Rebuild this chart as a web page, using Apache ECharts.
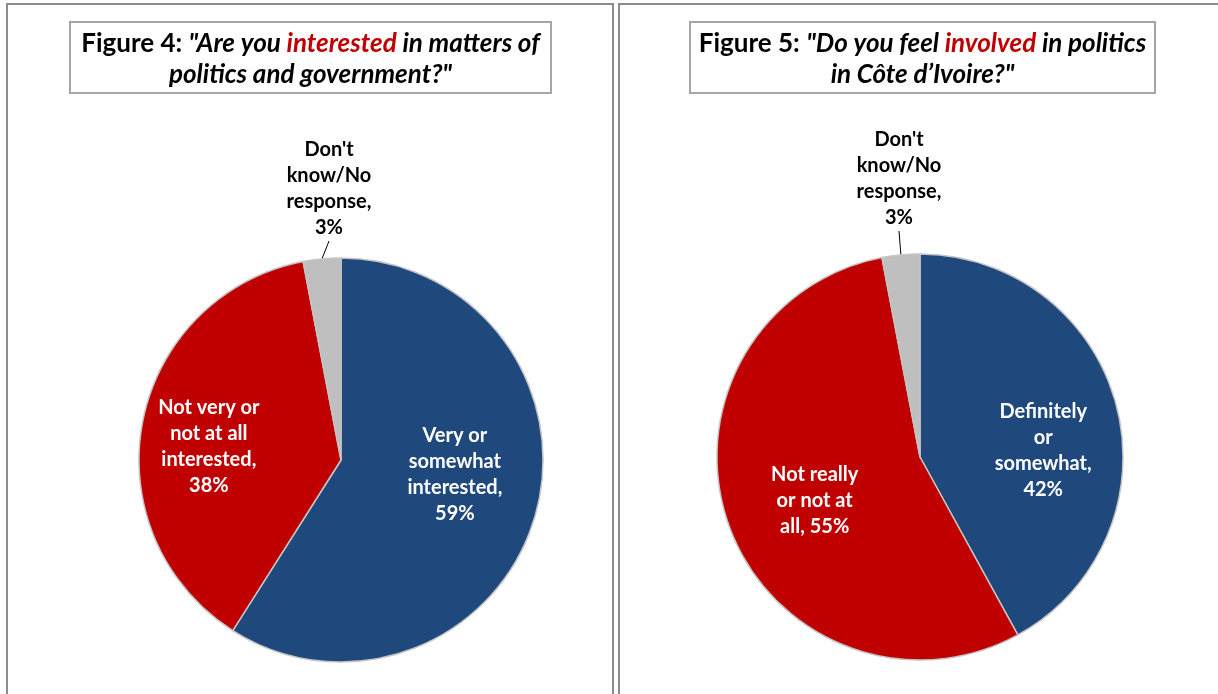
<!DOCTYPE html>
<html>
<head>
<meta charset="utf-8">
<script src="https://cdn.jsdelivr.net/npm/echarts@6/dist/echarts.min.js"></script>
<style>
  html, body { margin: 0; padding: 0; background: #ffffff; }
  #chart { width: 1218px; height: 694px; }
</style>
</head>
<body>
<div id="chart"></div>
<script>
// Figure 4: interest in politics and government (%)
const fig4Categories = ['Very or somewhat interested', 'Not very or not at all interested', "Don't know/No response"];
const fig4Values = [59, 38, 3];
const fig4LabelText = ['Very or\nsomewhat\ninterested,\n', 'Not very or\nnot at all\ninterested,\n', "Don't\nknow/No\nresponse,\n"];

// Figure 5: feeling involved in politics in Côte d'Ivoire (%)
const fig5Categories = ['Definitely or somewhat', 'Not really or not at all', "Don't know/No response"];
const fig5Values = [42, 55, 3];
const fig5LabelText = ['Definitely\nor\nsomewhat,\n', 'Not really\nor not at\nall, ', "Don't\nknow/No\nresponse,\n"];

const sliceColors = ['#1F497D', '#C00000', '#BFBFBF'];

// label nudges for the inside labels, and anchor points for the callout labels
const insideShift = [[[14, -14], [-30, 6]], [[22, 20], [-7, 8]]];
const calloutAt = [[329, 189], [899, 179]];

const FONT = 'Lato, "Open Sans", "DejaVu Sans", sans-serif';

function buildData(categories, values, texts) {
  return categories.map((name, i) => {
    const item = {
      name: name,
      value: values[i],
      labelText: texts[i],
      itemStyle: { color: sliceColors[i] }
    };
    if (i === 2) {
      item.label = { position: 'outside', color: '#000000' };
      item.labelLine = { show: true, length: 14, length2: 0, lineStyle: { color: '#000000', width: 1 } };
    }
    return item;
  });
}

function pieSeries(idx, center, radius, data) {
  return {
    type: 'pie',
    center: center,
    radius: radius,
    startAngle: 90,
    clockwise: true,
    avoidLabelOverlap: false,
    silent: true,
    animation: false,
    itemStyle: { borderColor: '#c4c4c4', borderWidth: 1.5 },
    label: {
      show: true,
      position: 'inside',
      color: '#ffffff',
      fontFamily: FONT,
      fontWeight: 'bold',
      fontSize: 20,
      lineHeight: 26,
      align: 'center',
      formatter: p => p.data.labelText + p.value + '%'
    },
    labelLine: { show: false },
    labelLayout: function (p) {
      if (p.dataIndex === 2) {
        const pos = calloutAt[idx];
        return { x: pos[0], y: pos[1], align: 'center', verticalAlign: 'middle' };
      }
      const s = insideShift[idx][p.dataIndex];
      return { dx: s[0], dy: s[1] };
    },
    data: data
  };
}

function titleBlock(cx, cy, w, h, rich) {
  const base = { fontFamily: FONT, fontWeight: 'bold', fontSize: 26, lineHeight: 31, fill: '#000000' };
  return {
    type: 'group',
    children: [
      {
        type: 'rect',
        shape: { x: cx - w / 2, y: cy - h / 2, width: w, height: h },
        style: { fill: '#ffffff', stroke: '#a6a6a6', lineWidth: 2 },
        z: 10
      },
      {
        type: 'text',
        x: cx,
        y: cy + 2,
        z: 11,
        style: {
          text: rich,
          align: 'center',
          verticalAlign: 'middle',
          lineHeight: 31,
          rich: {
            n: Object.assign({}, base),
            i: Object.assign({}, base, { fontStyle: 'italic' }),
            r: Object.assign({}, base, { fontStyle: 'italic', fill: '#C00000' })
          }
        }
      }
    ]
  };
}

const chart = echarts.init(document.getElementById('chart'), null, { renderer: 'canvas' });

chart.setOption({
  backgroundColor: '#ffffff',
  graphic: [
    { type: 'rect', shape: { x: 7, y: 4, width: 606, height: 720 }, style: { fill: 'none', stroke: '#8c8c8c', lineWidth: 2 }, z: 0 },
    { type: 'rect', shape: { x: 619, y: 4, width: 620, height: 720 }, style: { fill: 'none', stroke: '#8c8c8c', lineWidth: 2 }, z: 0 },
    titleBlock(310.5, 57.5, 481, 71,
      '{n|Figure 4: }{i|"Are you }{r|interested}{i| in matters of}\n{i|politics and government?"}'),
    titleBlock(922.5, 57.5, 465, 71,
      '{n|Figure 5: }{i|"Do you feel }{r|involved}{i| in politics}\n{i|in Côte d\u2019Ivoire?"}')
  ],
  series: [
    pieSeries(0, [341, 460], 202, buildData(fig4Categories, fig4Values, fig4LabelText)),
    pieSeries(1, [920, 457], 203, buildData(fig5Categories, fig5Values, fig5LabelText))
  ]
});
</script>
</body>
</html>
